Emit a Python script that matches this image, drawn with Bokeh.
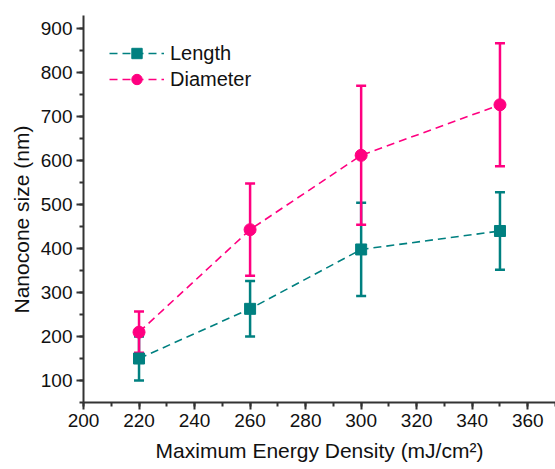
from bokeh.plotting import figure
from bokeh.models import (ColumnDataSource, Whisker, TeeHead, FixedTicker, Range1d,
                          Legend, LegendItem, Title)
from bokeh.embed import file_html
from bokeh.resources import INLINE

energy = [220, 260, 300, 350]
length = [150, 263, 398, 440]
length_err = [50, 63, 106, 88]
diameter = [210, 443, 612, 727]
diameter_err = [47, 105, 158, 140]

x_ticks = [200, 220, 240, 260, 280, 300, 320, 340, 360]
y_ticks = [100, 200, 300, 400, 500, 600, 700, 800, 900]

TEAL = "#008080"
PINK = "#FF0080"
FONT = "Liberation Sans"

p = figure(width=555, height=469, output_backend="svg", toolbar_location=None,
           x_range=Range1d(200, 370), y_range=Range1d(50, 930),
           min_border_left=83, min_border_right=0, min_border_top=15, min_border_bottom=67)
p.outline_line_color = None
p.xgrid.visible = False
p.ygrid.visible = False

def make_src(y, err):
    return ColumnDataSource(dict(x=energy, y=y,
                                 upper=[a + b for a, b in zip(y, err)],
                                 lower=[a - b for a, b in zip(y, err)]))

src_l = make_src(length, length_err)
src_d = make_src(diameter, diameter_err)

for src, col in ((src_l, TEAL), (src_d, PINK)):
    w = Whisker(source=src, base="x", upper="upper", lower="lower",
                line_color=col, line_width=2.5,
                upper_head=TeeHead(size=10, line_color=col, line_width=2.5),
                lower_head=TeeHead(size=10, line_color=col, line_width=2.5))
    p.add_layout(w)

l_line = p.line("x", "y", source=src_l, line_color=TEAL, line_width=1.6, line_dash="8 5")
l_pts = p.scatter("x", "y", source=src_l, marker="square", size=11,
                  fill_color=TEAL, line_color=TEAL)
d_line = p.line("x", "y", source=src_d, line_color=PINK, line_width=1.6, line_dash="8 5")
d_pts = p.scatter("x", "y", source=src_d, marker="circle", size=12,
                  fill_color=PINK, line_color=PINK)

legend = Legend(items=[LegendItem(label="Length", renderers=[l_line, l_pts]),
                       LegendItem(label="Diameter", renderers=[d_line, d_pts])],
                location=(26, 310), margin=0, padding=0, spacing=0,
                glyph_width=55, glyph_height=26, label_height=26,
                label_standoff=6, label_text_font=FONT, label_text_font_size="20px",
                label_text_color="#111111",
                background_fill_alpha=0, border_line_color=None)
p.add_layout(legend)

for ax in (p.xaxis[0], p.yaxis[0]):
    ax.axis_line_color = "#333333"
    ax.axis_line_width = 2
    ax.major_tick_line_color = "#333333"
    ax.minor_tick_line_color = "#333333"
    ax.major_tick_line_width = 2
    ax.minor_tick_line_width = 2
    ax.major_tick_out = 7
    ax.major_tick_in = 0
    ax.minor_tick_out = 4
    ax.minor_tick_in = 0
    ax.major_label_text_font = FONT
    ax.major_label_text_font_size = "19px"
    ax.major_label_text_color = "#111111"
    ax.axis_label_text_font = FONT
    ax.axis_label_text_font_size = "21px"
    ax.axis_label_text_font_style = "normal"
    ax.axis_label_text_color = "#111111"
    ax.major_label_standoff = 4

p.xaxis[0].ticker = FixedTicker(ticks=x_ticks, minor_ticks=list(range(200, 371, 10)))
p.yaxis[0].ticker = FixedTicker(ticks=y_ticks, minor_ticks=list(range(50, 931, 50)))
p.xaxis[0].axis_label = "Maximum Energy Density (mJ/cm²)"
p.xaxis[0].axis_label_standoff = 9

ytitle = Title(text="Nanocone size (nm)", align="left", offset=89,
               text_font=FONT, text_font_size="21px", text_font_style="normal",
               text_color="#111111", standoff=9)
p.add_layout(ytitle, "left")

open("out.html", "w").write(file_html(p, INLINE))
